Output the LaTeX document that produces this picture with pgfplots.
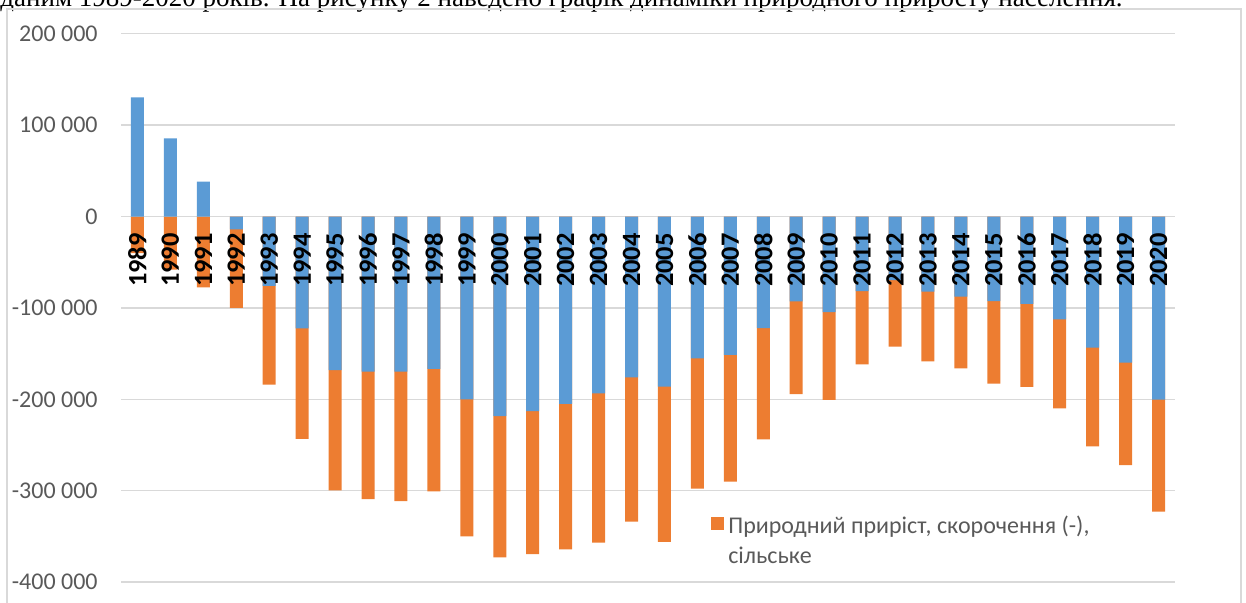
\documentclass[border=0pt]{standalone}
\usepackage{fontspec}
\setmainfont{Carlito}
\newfontfamily\tnr{Liberation Serif}
\usepackage{pgfplots}
\usepackage{pgfplotstable}
\pgfplotsset{compat=1.18}
\definecolor{cblue}{HTML}{5B9BD5}
\definecolor{corange}{HTML}{ED7D31}
\definecolor{cgrid}{HTML}{D9D9D9}
\definecolor{ctext}{HTML}{595959}
\newcommand\yl[1]{\hbox{\fontsize{12}{14}\selectfont\color{ctext}#1}}

% values in thousands: u = blue series, r = orange series (rural)
\pgfplotstableread{
x year u r
0 1989 130.4 -40.1
1 1990 85.6 -58.0
2 1991 38.1 -77.5
3 1992 -14.0 -86.0
4 1993 -76.0 -108.0
5 1994 -122.3 -121.0
6 1995 -168.0 -131.7
7 1996 -169.8 -139.5
8 1997 -169.8 -141.6
9 1998 -166.8 -133.8
10 1999 -200.0 -149.9
11 2000 -218.5 -154.3
12 2001 -212.8 -156.5
13 2002 -205.1 -159.0
14 2003 -193.4 -163.3
15 2004 -175.9 -157.8
16 2005 -186.2 -169.7
17 2006 -155.2 -142.4
18 2007 -151.5 -138.5
19 2008 -122.0 -121.8
20 2009 -92.8 -101.4
21 2010 -104.5 -96.0
22 2011 -81.5 -80.3
23 2012 -69.5 -72.8
24 2013 -82.2 -76.3
25 2014 -87.7 -78.5
26 2015 -92.5 -90.4
27 2016 -95.7 -90.7
28 2017 -112.5 -97.5
29 2018 -143.5 -108.0
30 2019 -159.9 -112.2
31 2020 -200.4 -122.6
}\data

\begin{document}
\begin{tikzpicture}
\begin{scope}
\clip (0pt,0pt) rectangle (623pt,-301pt);
\node[anchor=base west, inner sep=0pt, font=\tnr\fontsize{13.5}{16}\selectfont] at (0pt,-3.35pt) {даним 1989-2020 років. На рисунку 2 наведено графік динаміки природного приросту населення.};
\draw[cgrid, line width=0.75pt] (3.5pt,-4.6pt) rectangle (620.5pt,-310pt);
\end{scope}
\begin{axis}[
  at={(60.5pt,-291.05pt)}, anchor=south west,
  scale only axis, width=527pt, height=274.2pt,
  xmin=-0.5, xmax=31.5, ymin=-400, ymax=200,
  ybar, bar width=6.5pt, bar shift=0pt,
  axis line style={draw=none},
  major tick length=0pt,
  xtick=\empty,
  ytick={-400,-300,-200,-100,0,100,200},
  yticklabels={\yl{-400 000},\yl{-300 000},\yl{-200 000},\yl{-100 000},\yl{0},\yl{100 000},\yl{200 000}},
  yticklabel style={anchor=east, inner sep=0pt, xshift=-11.5pt},
  ymajorgrids, grid style={cgrid, line width=0.75pt},
  legend style={draw=none, fill=none, at={(rel axis cs:0.554,0.136)}, anchor=north west,
    font=\fontsize{12}{15}\selectfont, text=ctext, cells={align=left}},
  legend cell align=left,
  clip=false,
]
\addplot[fill=corange, draw=none,
  legend image code/.code={\fill[corange] (0pt,5.75pt) rectangle (6.5pt,12.25pt);}]
  table[x=x, y expr={\thisrow{u}<0 ? \thisrow{u}+\thisrow{r} : \thisrow{r}}] {\data};
\addlegendentry{Природний приріст, скорочення (-),\\сільське}
\addplot[fill=cblue, draw=none, forget plot] table[x=x, y=u] {\data};
% year labels, written below the zero line on top of the bars
\addplot[draw=none, fill=none, forget plot, ybar, bar width=0pt,
  point meta=explicit symbolic,
  nodes near coords={\bfseries\fontsize{13.2}{15}\selectfont\pgfplotspointmeta},
  every node near coord/.style={rotate=90, anchor=east, inner sep=0pt, text=black, xshift=-8.25pt}]
  table[x=x, y expr=0, meta=year] {\data};
\end{axis}
\pgfresetboundingbox
\useasboundingbox (0pt,0pt) rectangle (623pt,-301pt);
\end{tikzpicture}
\end{document}
